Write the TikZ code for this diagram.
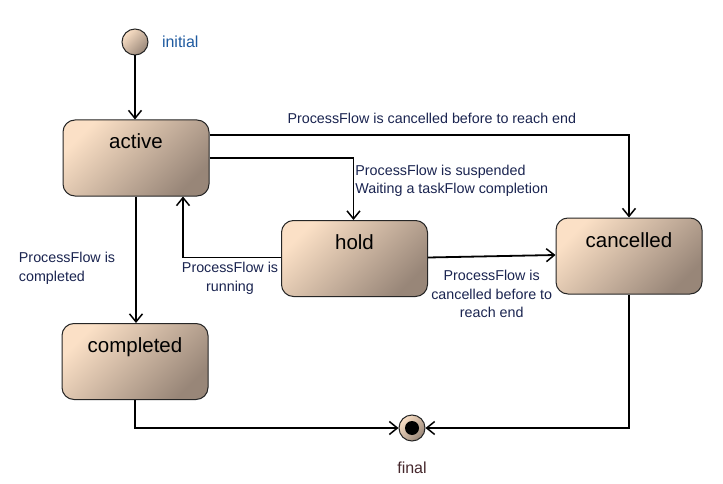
\documentclass[tikz,border=0pt]{standalone}
\usepackage{fontspec}
\setmainfont{Liberation Sans}
\usetikzlibrary{arrows.meta}
\definecolor{peach}{RGB}{251,224,198}
\definecolor{sand}{RGB}{234,208,184}
\definecolor{taupe}{RGB}{152,134,120}
\definecolor{labelblue}{RGB}{26,36,80}
\definecolor{initblue}{RGB}{30,90,160}
\definecolor{finalbrown}{RGB}{70,40,45}
\tikzset{
  shade/.style={top color=peach, middle color=sand, bottom color=taupe, shading angle=45},
  state/.style={draw=black!85, line width=1pt, rounded corners=12pt, shade,
    minimum width=146pt, minimum height=76pt, inner ysep=4pt,
    text height=25pt, text depth=43pt,
    font=\fontsize{20.5}{24}\selectfont},
  arr/.style={line width=1.8pt, -{Straight Barb[length=8pt,width=13pt,line width=1.5pt]}},
  flowtext/.style={text=labelblue, font=\fontsize{14.3}{18.5}\selectfont, inner sep=4pt}
}
\begin{document}
\begin{tikzpicture}[x=1pt,y=-1pt]
\useasboundingbox[fill=white] (0,0) rectangle (723,484);
% states
\node[circle, draw=black!85, line width=1pt, shade, minimum size=26pt, inner sep=0pt] (init) at (135,42) {};
\node[anchor=west, text=initblue, font=\fontsize{16}{19}\selectfont] (initlbl) at ([xshift=10pt]init.east) {initial};
\node[state] (active) at (136,158) {active};
\node[state] (hold) at (354.5,258.5) {hold};
\node[state] (cancelled) at (629,256) {cancelled};
\node[state] (completed) at (135,361.5) {completed};
\node[circle, draw=black!85, line width=1pt, shade, minimum size=26pt, inner sep=0pt,
  path picture={\fill[black] (path picture bounding box.center) circle (7pt);}] (final) at (412,428) {};
\node[below=17pt, text=finalbrown, font=\fontsize{16}{19}\selectfont] (finallbl) at (final.south) {final};
% transitions
\draw[arr] (init.south) -- (init.south |- active.north);
\draw[arr] ([yshift=23pt]active.east) -| (cancelled.north)
  node[flowtext, pos=0.265, above=6pt] {ProcessFlow is cancelled before to reach end};
\draw[arr] (active.east) -| ([xshift=-1pt]hold.north)
  node[flowtext, pos=0.5, anchor=north west, align=left, xshift=-3pt, yshift=-2pt] {ProcessFlow is suspended\\Waiting a taskFlow completion};
\draw[arr] ([yshift=1pt]hold.west) -| ([xshift=47pt]active.south)
  node[flowtext, pos=0.26, below, align=center] {ProcessFlow is\\running};
\draw[arr] ([yshift=1pt]hold.east) -- ([yshift=1pt]cancelled.west)
  node[flowtext, midway, below=9pt, align=center] {ProcessFlow is\\cancelled before to\\reach end};
\draw[arr] (active.south) -- (active.south |- completed.north)
  node[flowtext, pos=0.567, left=16pt, align=left] {ProcessFlow is\\completed};
\draw[arr] (completed.south) |- (final.west);
\draw[arr] (cancelled.south) |- (final.east);
\end{tikzpicture}
\end{document}
